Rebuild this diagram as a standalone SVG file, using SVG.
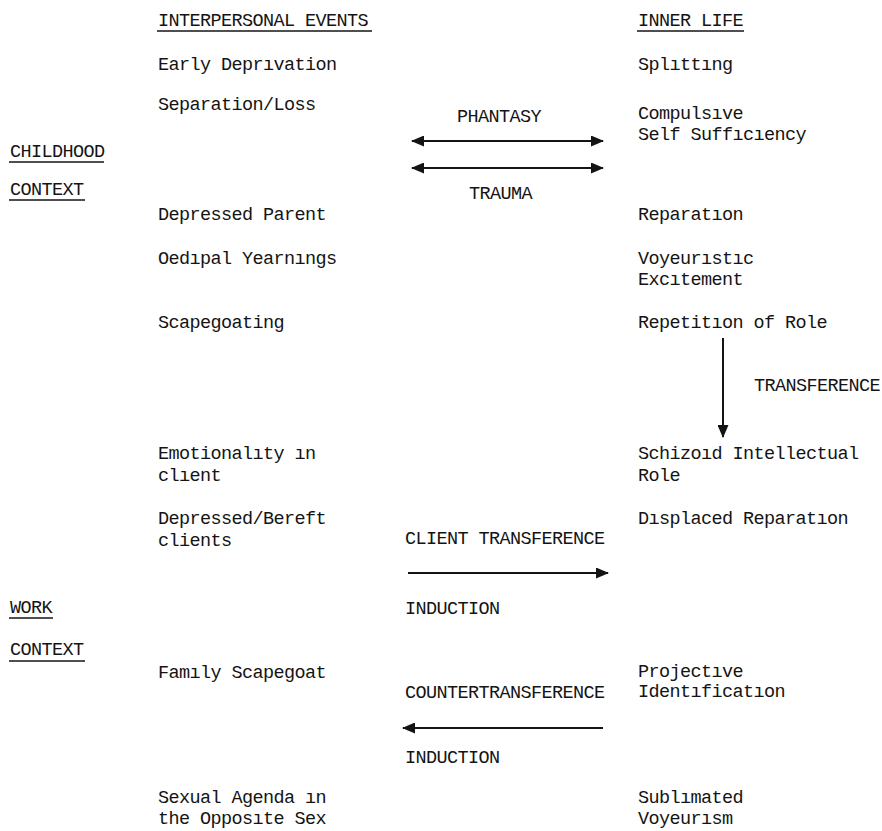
<svg xmlns="http://www.w3.org/2000/svg" width="882" height="831" viewBox="0 0 882 831">
<defs>
<style>
text{font-family:"Liberation Mono","Courier New",monospace;font-size:18.5px;letter-spacing:-0.6px;fill:#141414}
.ul{stroke:#141414;stroke-width:1.6}
.conn{stroke:#141414;stroke-width:2;fill:none}
</style>
<marker id="ah" viewBox="0 0 13 11" refX="12" refY="5.5" markerWidth="13" markerHeight="11" markerUnits="userSpaceOnUse" orient="auto-start-reverse">
<path d="M0,0 L13,5.5 L0,11 z" fill="#141414"/>
</marker>
</defs>
<rect width="882" height="831" fill="#fff"/>

<g id="header-interpersonal"><text x="158" y="26">INTERPERSONAL EVENTS</text><line class="ul" x1="157" y1="31" x2="372" y2="31"/></g>
<g id="header-inner"><text x="638" y="26">INNER LIFE</text><line class="ul" x1="637" y1="31" x2="744" y2="31"/></g>

<g id="childhood-context"><text x="10" y="157">CHILDHOOD</text><line class="ul" x1="9" y1="162" x2="104" y2="162"/><text x="10" y="195">CONTEXT</text><line class="ul" x1="9" y1="200" x2="85" y2="200"/></g>
<g id="work-context"><text x="10" y="613">WORK</text><line class="ul" x1="9" y1="618" x2="53" y2="618"/><text x="10" y="655">CONTEXT</text><line class="ul" x1="9" y1="661" x2="85" y2="661"/></g>

<g id="early-deprivation"><text x="158" y="70">Early Deprıvation</text></g>
<g id="separation-loss"><text x="158" y="110">Separation/Loss</text></g>
<g id="depressed-parent"><text x="158" y="220">Depressed Parent</text></g>
<g id="oedipal-yearnings"><text x="158" y="264">Oedıpal Yearnıngs</text></g>
<g id="scapegoating"><text x="158" y="328">Scapegoating</text></g>
<g id="emotionality"><text x="158" y="459">Emotionalıty ın</text><text x="158" y="481">clıent</text></g>
<g id="depressed-bereft"><text x="158" y="524">Depressed/Bereft</text><text x="158" y="546">clients</text></g>
<g id="family-scapegoat"><text x="158" y="678">Famıly Scapegoat</text></g>
<g id="sexual-agenda"><text x="158" y="803">Sexual Agenda ın</text><text x="158" y="824">the Opposıte Sex</text></g>

<g id="splitting"><text x="638" y="70">Splıttıng</text></g>
<g id="compulsive"><text x="638" y="119">Compulsıve</text><text x="638" y="140">Self Suffıcıency</text></g>
<g id="reparation"><text x="638" y="220">Reparatıon</text></g>
<g id="voyeuristic"><text x="638" y="264">Voyeurıstıc</text><text x="638" y="285">Excıtement</text></g>
<g id="repetition"><text x="638" y="328">Repetitıon of Role</text></g>
<g id="schizoid"><text x="638" y="459">Schizoıd Intellectual</text><text x="638" y="481">Role</text></g>
<g id="displaced-reparation"><text x="638" y="524">Dısplaced Reparatıon</text></g>
<g id="projective"><text x="638" y="677">Projectıve</text><text x="638" y="697">Identıficatıon</text></g>
<g id="sublimated"><text x="638" y="803">Sublımated</text><text x="638" y="824">Voyeurısm</text></g>

<g id="connectors">
<line class="conn" x1="412" y1="141" x2="603" y2="141" marker-start="url(#ah)" marker-end="url(#ah)"/>
<line class="conn" x1="412" y1="168" x2="603" y2="168" marker-start="url(#ah)" marker-end="url(#ah)"/>
<line class="conn" x1="723" y1="338" x2="723" y2="437" marker-end="url(#ah)"/>
<line class="conn" x1="408" y1="573" x2="608" y2="573" marker-end="url(#ah)"/>
<line class="conn" x1="603" y1="728" x2="403" y2="728" marker-end="url(#ah)"/>
<text x="457" y="122">PHANTASY</text>
<text x="469" y="199">TRAUMA</text>
<text x="754" y="391">TRANSFERENCE</text>
<text x="405" y="544">CLIENT TRANSFERENCE</text>
<text x="405" y="614">INDUCTION</text>
<text x="405" y="698">COUNTERTRANSFERENCE</text>
<text x="405" y="763">INDUCTION</text>
</g>
</svg>
